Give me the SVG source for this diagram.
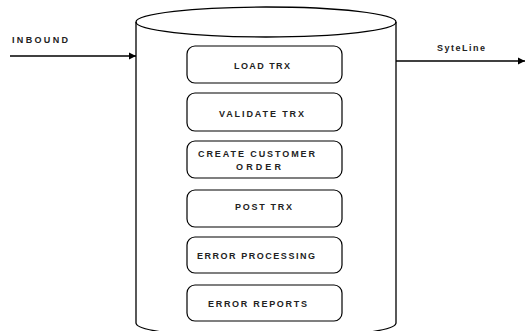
<svg xmlns="http://www.w3.org/2000/svg" width="525" height="331" viewBox="0 0 525 331">
<style>
.ln{fill:none;stroke:#000;stroke-width:1.3}
.box{fill:#fff;stroke:#000;stroke-width:1.2}
.t{font-family:"Liberation Sans",Arial,sans-serif;font-size:9px;font-weight:bold;fill:#222;text-anchor:start}
</style>
<defs>
<marker id="ah" markerWidth="8" markerHeight="8" refX="7" refY="4" orient="auto" markerUnits="userSpaceOnUse">
<path d="M0,0.5 L7,4 L0,7.5 Z" fill="#000"/>
</marker>
</defs>
<rect width="525" height="331" fill="#fff"/>
<g id="cylinder">
<path class="ln" d="M136,22 L136,323 A130,15 0 0 0 396,323 L396,22"/>
<ellipse class="ln" cx="266" cy="22" rx="130" ry="15"/>
</g>
<g id="connectors">
<line class="ln" x1="10" y1="56" x2="136" y2="56" marker-end="url(#ah)"/>
<line class="ln" x1="396" y1="61" x2="525" y2="61" marker-end="url(#ah)"/>
<text class="t" x="12" y="43" textLength="56" lengthAdjust="spacing">INBOUND</text>
<text class="t" x="437" y="51" textLength="48" lengthAdjust="spacing">SyteLine</text>
</g>
<g id="load">
<rect class="box" x="187" y="46" width="155" height="37" rx="8"/>
<text class="t" x="234" y="68.5" textLength="56" lengthAdjust="spacing">LOAD TRX</text>
</g>
<g id="validate">
<rect class="box" x="187" y="93" width="155" height="38" rx="8"/>
<text class="t" x="219" y="116.5" textLength="85" lengthAdjust="spacing">VALIDATE TRX</text>
</g>
<g id="create">
<rect class="box" x="187" y="141" width="155" height="37" rx="8"/>
<text class="t" x="198" y="156.5" textLength="117" lengthAdjust="spacing">CREATE CUSTOMER</text>
<text class="t" x="236" y="170" textLength="45" lengthAdjust="spacing">ORDER</text>
</g>
<g id="post">
<rect class="box" x="187" y="190" width="155" height="37" rx="8"/>
<text class="t" x="235" y="210" textLength="57" lengthAdjust="spacing">POST TRX</text>
</g>
<g id="errproc">
<rect class="box" x="187" y="237" width="155" height="36" rx="8"/>
<text class="t" x="197" y="259" textLength="118" lengthAdjust="spacing">ERROR PROCESSING</text>
</g>
<g id="errrep">
<rect class="box" x="187" y="285" width="155" height="36" rx="8"/>
<text class="t" x="208" y="307" textLength="99" lengthAdjust="spacing">ERROR REPORTS</text>
</g>
</svg>
